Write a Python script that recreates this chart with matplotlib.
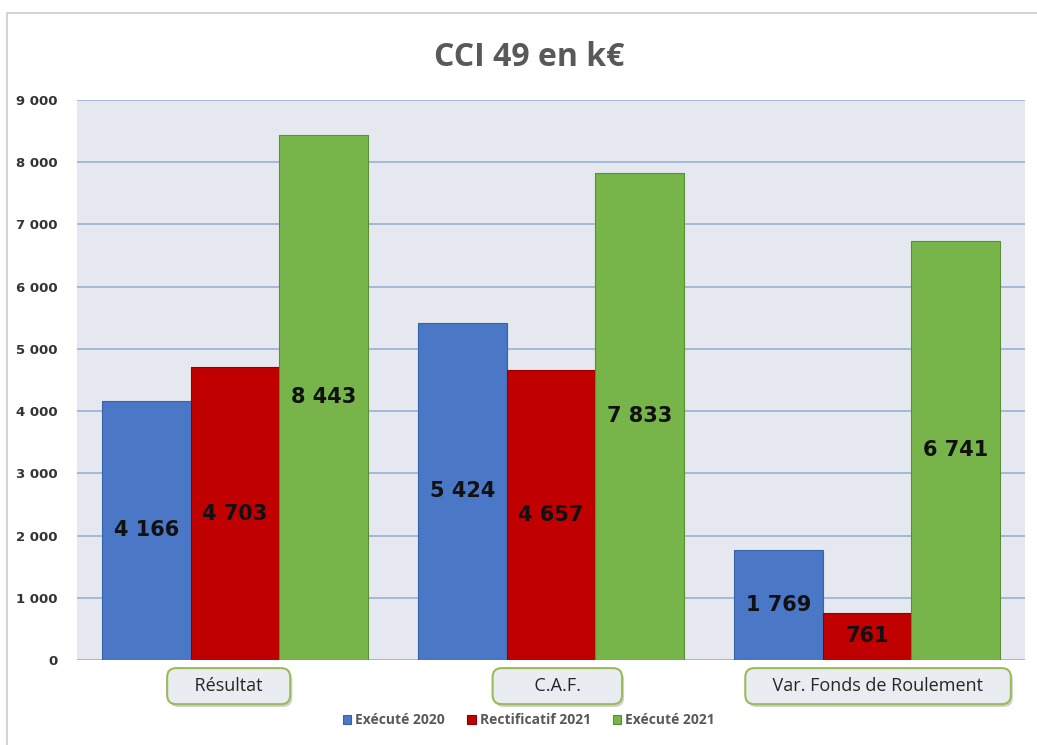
import numpy as np
import matplotlib.pyplot as plt
from matplotlib.patches import Rectangle
from matplotlib.ticker import FuncFormatter
import matplotlib.patheffects as pe

# données (k€)
categories = ['Résultat', 'C.A.F.', 'Var. Fonds de Roulement']
series = ['Exécuté 2020', 'Rectificatif 2021', 'Exécuté 2021']
execute_2020 = [4166, 5424, 1769]
rectificatif_2021 = [4703, 4657, 761]
execute_2021 = [8443, 7833, 6741]

colors = ['#4a78c6', '#c00000', '#77b54a']
edges = ['#3a62a8', '#8f0000', '#5a8e36']

fig = plt.figure(figsize=(10.37, 7.45), dpi=100)
fig.patch.set_facecolor('white')

# cadre du graphique
fig.patches.append(Rectangle((7 / 1037, -0.01), 1.02, 1 - 13 / 745 + 0.01,
                             transform=fig.transFigure, fill=False,
                             edgecolor='#d4d4d4', linewidth=1.5))

ax = fig.add_axes([77 / 1037, 1 - 660 / 745, 948 / 1037, 560 / 745])
ax.set_facecolor('#e5e9ef')

x = np.arange(len(categories))
w = 0.28
data = [execute_2020, rectificatif_2021, execute_2021]
for i, vals in enumerate(data):
    xs = x + (i - 1) * w
    ax.bar(xs, vals, width=w, color=colors[i], edgecolor=edges[i],
           linewidth=0.8, label=series[i], zorder=3)
    for xi, v in zip(xs, vals):
        lab = f'{v:,}'.replace(',', ' ')
        ax.text(xi, v / 2, lab, ha='center', va='center', fontsize=15,
                fontweight='bold', color='#111111', family='DejaVu Sans', zorder=4)

ax.set_xlim(-0.5, 2.5)
ax.set_ylim(0, 9000)
ax.set_yticks(range(0, 9001, 1000))
ax.yaxis.set_major_formatter(FuncFormatter(lambda v, p: f'{int(v):,}'.replace(',', ' ')))
ax.grid(axis='y', color='#9fb4d8', linewidth=1.3, zorder=0)
ax.tick_params(axis='y', length=0, pad=14, labelsize=9.5, labelcolor='#333333')
for t in ax.get_yticklabels():
    t.set_fontweight('bold')
ax.set_xticks([])
for s in ax.spines.values():
    s.set_visible(False)

# étiquettes de catégories dans des boîtes arrondies
shifts = [-0.02, 0.02, 0.035]
padding = ['    ', '       ', '    ']
for xi, c, dx, sp in zip(x, categories, shifts, padding):
    t = ax.text(xi + dx, -420, sp + c + sp, ha='center', va='center',
                fontsize=13, family='Open Sans', color='#262626',
                bbox=dict(boxstyle='round,pad=0.5,rounding_size=0.5', facecolor='#e9ecf1',
                          edgecolor='#9bbb59', linewidth=1.5),
                clip_on=False, zorder=5)
    t.get_bbox_patch().set_path_effects([pe.SimplePatchShadow(offset=(1.5, -2), alpha=0.25),
                                         pe.Normal()])

fig.suptitle('CCI 49 en k€', x=0.51, y=0.945, fontsize=23, fontweight='bold',
             family='Open Sans', color='#595959')

leg = fig.legend(loc='center', bbox_to_anchor=(0.51, 0.033), ncol=3, frameon=False,
                 handlelength=0.6, handleheight=0.6, handletextpad=0.3,
                 columnspacing=1.6, prop={'family': 'Open Sans', 'size': 10, 'weight': 'bold'})
for t in leg.get_texts():
    t.set_color('#595959')

fig.savefig('out.png', dpi=100)
